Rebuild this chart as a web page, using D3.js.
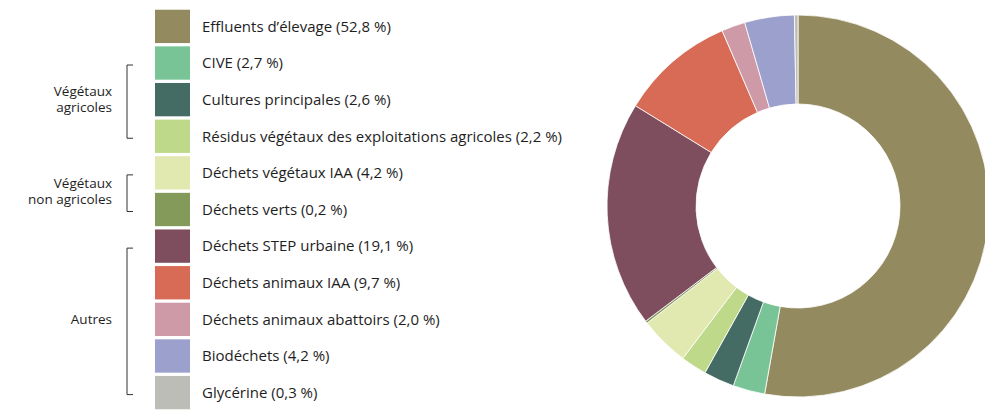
<!doctype html>
<html>
<head>
<meta charset="utf-8">
<title>Intrants méthanisation</title>
<script src="https://d3js.org/d3.v7.min.js"></script>
<style>
  body { margin: 0; background: #fff; }
  text { font-family: "Open Sans", sans-serif; fill: #1e1e1e; }
</style>
</head>
<body>
<div id="chart"></div>
<script>
const categories = ["Effluents d’élevage", "CIVE", "Cultures principales",
  "Résidus végétaux des exploitations agricoles", "Déchets végétaux IAA", "Déchets verts",
  "Déchets STEP urbaine", "Déchets animaux IAA", "Déchets animaux abattoirs",
  "Biodéchets", "Glycérine"];
const values = [52.8, 2.7, 2.6, 2.2, 4.2, 0.2, 19.1, 9.7, 2.0, 4.2, 0.3];
const colors = ["#948a60", "#78c496", "#456b65", "#bfd98a", "#e1e8b0", "#839a5a",
  "#7e4e5e", "#d76b55", "#cf9aa8", "#9ca0cc", "#bdbdb8"];
// groups: label lines, first row, last row
const groups = [
  { lines: ["Végétaux", "agricoles"], from: 1, to: 3 },
  { lines: ["Végétaux", "non agricoles"], from: 4, to: 5 },
  { lines: ["Autres"], from: 6, to: 10 }
];

const w = 985, h = 411;
const svg = d3.select("#chart").append("svg").attr("width", w).attr("height", h);

const fmt = v => d3.format(".1f")(v).replace(".", ",");

// legend
const rowY = d3.scaleBand().domain(d3.range(categories.length))
  .range([9, 410]).paddingInner(0.09).paddingOuter(0.02);
const rowMid = i => rowY(i) + rowY.bandwidth() / 2;

const legend = svg.append("g");
legend.selectAll("rect").data(categories).join("rect")
  .attr("x", 155).attr("y", (d, i) => rowY(i))
  .attr("width", 35).attr("height", rowY.bandwidth())
  .attr("fill", (d, i) => colors[i]);
legend.selectAll("text").data(categories).join("text")
  .attr("x", 202).attr("y", (d, i) => rowMid(i))
  .attr("dy", "0.35em").style("font-size", "15px")
  .text((d, i) => d + " (" + fmt(values[i]) + " %)");

// brackets
const br = svg.append("g");
groups.forEach(g => {
  const y0 = rowMid(g.from) + 2, y1 = rowMid(g.to) + 2;
  br.append("path")
    .attr("d", `M133,${y0}H127V${y1}H133`)
    .attr("fill", "none").attr("stroke", "#333").attr("stroke-width", 1);
  const yc = (rowMid(g.from) + rowMid(g.to)) / 2;
  const t = br.append("text").attr("text-anchor", "end").style("font-size", "13.5px");
  g.lines.forEach((l, k) => {
    t.append("tspan").attr("x", 112)
      .attr("y", yc + (k - (g.lines.length - 1) / 2) * 16)
      .attr("dy", "0.35em").text(l);
  });
});

// donut
const pie = d3.pie().sort(null).value(d => d);
const arc = d3.arc().innerRadius(102).outerRadius(191);
const donut = svg.append("g").attr("transform", "translate(798,206)");
donut.selectAll("path").data(pie(values)).join("path")
  .attr("d", arc)
  .attr("fill", (d, i) => colors[i])
  .attr("stroke", "#fff").attr("stroke-width", 0.8);
</script>
</body>
</html>
